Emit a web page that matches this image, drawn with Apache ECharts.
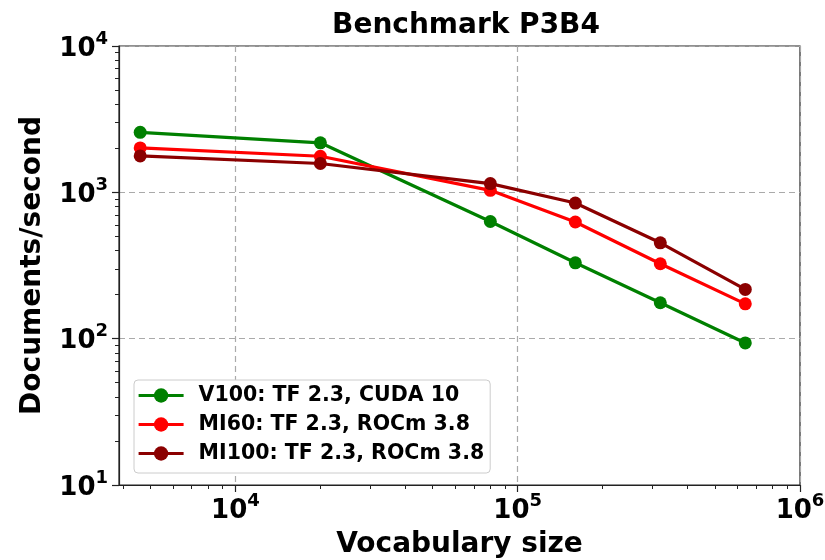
<!DOCTYPE html>
<html>
<head>
<meta charset="utf-8">
<script src="https://cdn.jsdelivr.net/npm/echarts@6/dist/echarts.min.js"></script>
<style>html,body{margin:0;padding:0;background:#fff}#c{width:825px;height:560px}</style>
</head>
<body>
<div id="c"></div>
<script>
const vocab = [4600, 20000, 80000, 160000, 320000, 640000];
const v100 = [2570, 2180, 632, 330, 176, 93.5];
const mi60 = [2010, 1765, 1032, 627, 325, 173];
const mi100 = [1774, 1574, 1147, 845, 452, 217];
const seriesNames = ['V100: TF 2.3, CUDA 10', 'MI60: TF 2.3, ROCm 3.8', 'MI100: TF 2.3, ROCm 3.8'];
const seriesColors = ['#008000', '#ff0000', '#8b0000'];
const xMajor = [1e4, 1e5, 1e6];
const yMajor = [10, 100, 1000, 10000];
const xMin = 3870, xMax = 1e6, yMin = 10, yMax = 10000;

function minorTicks(lo, hi) {
  const out = [];
  for (let k = -1; k <= 7; k++) {
    for (let m = 2; m <= 9; m++) {
      const v = m * Math.pow(10, k);
      if (v > lo && v < hi) out.push(v);
    }
  }
  return out;
}
const xMinor = minorTicks(xMin, xMax);
const yMinor = minorTicks(yMin, yMax);

const FONT = 'DejaVu Sans';
const labelRich = {
  a: {fontSize: 26, fontWeight: 'bold', fontFamily: FONT, color: '#000', lineHeight: 32, verticalAlign: 'bottom'},
  b: {fontSize: 18, fontWeight: 'bold', fontFamily: FONT, color: '#000', lineHeight: 32, verticalAlign: 'top'}
};
function powFmt(v) {
  const e = Math.round(Math.log10(v));
  return '{a|10}{b|' + e + '}';
}
const axisCol = '#222';
const grid = {left: 119, right: 25, top: 46, bottom: 75, show: true, borderColor: axisCol, borderWidth: 1.2,
  backgroundColor: 'transparent', containLabel: false, outerBoundsMode: 'none'};

const series = [v100, mi60, mi100].map((vals, i) => ({
  name: seriesNames[i],
  type: 'line',
  xAxisIndex: 0, yAxisIndex: 0,
  data: vocab.map((x, j) => [x, vals[j]]),
  symbol: 'circle',
  symbolSize: 13,
  lineStyle: {width: 3.2, color: seriesColors[i]},
  itemStyle: {color: seriesColors[i]},
  z: 3 + i,
  animation: false
}));

const option = {
  animation: false,
  backgroundColor: '#fff',
  title: {
    text: 'Benchmark P3B4', left: 461, top: 7, textAlign: 'center',
    textStyle: {fontSize: 28, fontWeight: 'bold', fontFamily: FONT, color: '#000'}
  },
  grid: grid,
  legend: {
    left: 134, top: 380, orient: 'vertical',
    itemWidth: 45, itemHeight: 18, itemGap: 8,
    padding: [5, 6, 9, 3],
    borderColor: '#cccccc', borderWidth: 1, borderRadius: 4, backgroundColor: '#fff',
    lineStyle: {width: 3.2},
    textStyle: {fontSize: 20.5, fontWeight: 'bold', fontFamily: FONT, color: '#000', lineHeight: 21, padding: [0, 0, 0, 10]},
    data: seriesNames
  },
  xAxis: [{
    type: 'log', logBase: 10, min: xMin, max: xMax,
    name: 'Vocabulary size', nameLocation: 'middle', nameGap: 46,
    nameTextStyle: {fontSize: 28, fontWeight: 'bold', fontFamily: FONT, color: '#000'},
    axisLine: {show: true, lineStyle: {color: axisCol, width: 1.2}},
    axisTick: {show: true, customValues: xMajor, length: 7, lineStyle: {color: axisCol, width: 1.2}},
    axisLabel: {customValues: xMajor, formatter: powFmt, rich: labelRich, margin: 7},
    splitLine: {show: true, lineStyle: {color: '#aaaaaa', type: [6, 4], width: 1.2}}
  }, {
    type: 'log', logBase: 10, min: xMin, max: xMax, position: 'bottom',
    axisLine: {show: false},
    axisTick: {show: true, customValues: xMinor, length: 4, lineStyle: {color: axisCol, width: 1}},
    axisLabel: {show: false},
    splitLine: {show: false}
  }],
  yAxis: [{
    type: 'log', logBase: 10, min: yMin, max: yMax,
    name: 'Documents/second', nameLocation: 'middle', nameGap: 72,
    nameTextStyle: {fontSize: 28, fontWeight: 'bold', fontFamily: FONT, color: '#000'},
    axisLine: {show: true, lineStyle: {color: axisCol, width: 1.2}},
    axisTick: {show: true, customValues: yMajor, length: 7, lineStyle: {color: axisCol, width: 1.2}},
    axisLabel: {customValues: yMajor, formatter: powFmt, rich: labelRich, margin: 11},
    splitLine: {show: true, lineStyle: {color: '#aaaaaa', type: [6, 4], width: 1.2}}
  }, {
    type: 'log', logBase: 10, min: yMin, max: yMax, position: 'left',
    axisLine: {show: false},
    axisTick: {show: true, customValues: yMinor, length: 4, lineStyle: {color: axisCol, width: 1}},
    axisLabel: {show: false},
    splitLine: {show: false}
  }],
  series: series
};
const chart = echarts.init(document.getElementById('c'), null, {renderer: 'canvas'});
chart.setOption(option);
</script>
</body>
</html>
